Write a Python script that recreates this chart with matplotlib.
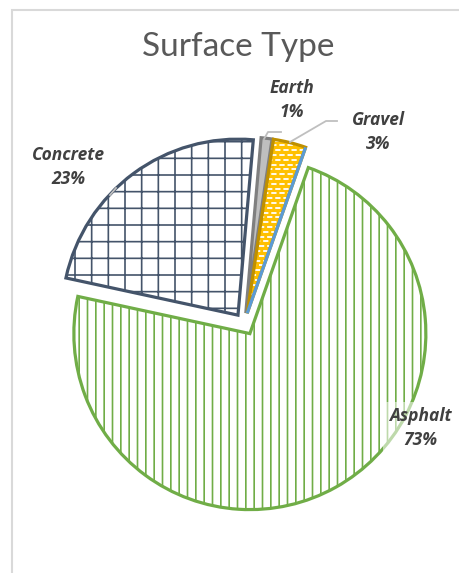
import numpy as np
import matplotlib.pyplot as plt
from matplotlib.patches import Wedge, Rectangle

categorias = ['Earth', 'Gravel', 'Asphalt', 'Concrete']
percentuais = [1, 3, 73, 23]
explosao = [0.0625, 0.0625, 0.0625, 0.0625]

cores_fundo = ['#BFBFBF', '#FFC000', 'white', 'white']
cores_borda = ['#7F7F7F', '#BF9000', '#70AD47', '#44546A']
hachuras = [None, None, '||', '+']
# posicoes dos rotulos (pixels da imagem)
pos_rotulos = [(292, 100), (378, 132), (420, 428), (68, 167)]

W, H = 459, 573
CX, CY, R = 244.5, 324, 176  # centro e raio do pie em pixels


def px(x, y):
    return (x - CX) / R, (CY - y) / R


plt.rcParams['hatch.linewidth'] = 1.2

fig = plt.figure(figsize=(W / 100, H / 100), dpi=100)
ax = fig.add_axes([0, 0, 1, 1])

wedges, _ = ax.pie(percentuais, explode=explosao, startangle=85,
                   counterclock=False, radius=1, center=(0, 0))

for w, fundo, borda, hach in zip(wedges, cores_fundo, cores_borda, hachuras):
    w.set_facecolor(fundo)
    w.set_linewidth(0)
    if hach:
        w.set_hatch(hach)
        w.set_edgecolor(borda)
    else:
        w.set_edgecolor('none')
    contorno = Wedge(w.center, w.r, w.theta1, w.theta2, fill=False,
                     edgecolor=borda, linewidth=2.3, joinstyle='miter', zorder=3)
    ax.add_patch(contorno)

# tracos brancos do cascalho
cascalho = wedges[1]
gx, gy = cascalho.center
passo = 4.8 / R
for k, y in enumerate(np.arange(gy, gy + 1.05, passo)):
    linha, = ax.plot([gx - 0.3, gx + 0.6], [y, y], color='white', lw=1.3,
                     linestyle=((k % 2) * 2.2, (2.9, 1.6)), zorder=2)
    linha.set_clip_path(cascalho)

# borda azul do lado direito do cascalho
t = np.deg2rad(cascalho.theta1)
ax.plot([gx, gx + cascalho.r * np.cos(t)], [gy, gy + cascalho.r * np.sin(t)],
        color='#5B9BD5', lw=2.3, zorder=4, solid_capstyle='butt')

# linhas guia
guias = [
    [(264, 139), (268, 132), (281, 132)],
    [(290, 142), (326, 121), (337, 121)],
    [(110, 195), (116, 188)],
]
for g in guias:
    xs, ys = zip(*[px(*p) for p in g])
    ax.plot(xs, ys, color='#BFBFBF', lw=1.3, zorder=4)

# rotulos
for cat, p, (x, y) in zip(categorias, percentuais, pos_rotulos):
    kw = {}
    if cat == 'Asphalt':
        kw['bbox'] = dict(boxstyle='square,pad=0.3', facecolor='white',
                          alpha=0.55, edgecolor='none')
    ax.text(*px(x, y), f"{cat}\n{p}%", ha='center', va='center',
            fontsize=12.5, fontweight='bold', fontstyle='italic',
            family='Open Sans', color='#404040', linespacing=1.45, zorder=5, **kw)

fig.text(238 / W, 1 - 47 / H, 'Surface Type', ha='center', va='center',
         fontsize=24, color='#595959', family='Lato')

# moldura
fig.add_artist(Rectangle((12 / W, -0.1), 2, 1 - 10 / H + 0.1,
                         transform=fig.transFigure, fill=False,
                         edgecolor='#D9D9D9', linewidth=1.5))

x0, y0 = px(0, H)
x1, y1 = px(W, 0)
ax.set_xlim(x0, x1)
ax.set_ylim(y0, y1)
ax.set_aspect('equal')
ax.axis('off')

fig.savefig('out.png', dpi=100)
